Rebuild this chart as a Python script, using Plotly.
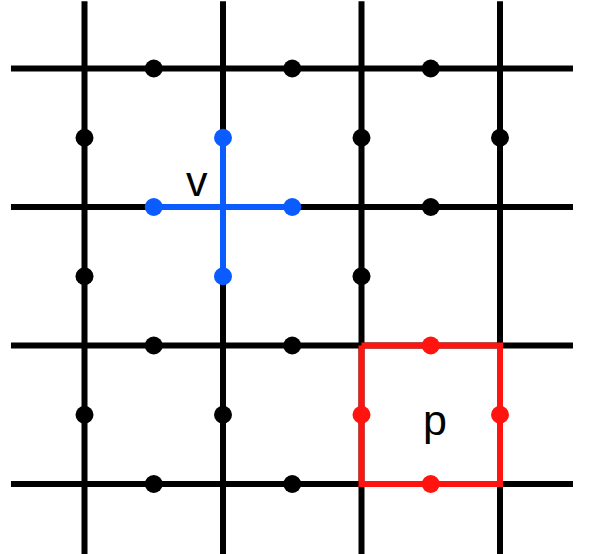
import plotly.graph_objects as go

# Lattice (in lattice units: columns / rows)
cols = [0, 1, 2, 3]
rows = [0, 1, 2, 3]
h_extent = [-0.531, 3.527]
v_extent = [-0.485, 3.60]

# Black qubit dots (edge midpoints)
black_x = [0.5, 1.5, 2.5, 2.5, 0.5, 1.5, 0.5, 1.5, 0, 2, 3, 0, 2, 0, 1]
black_y = [0, 0, 0, 1, 2, 2, 3, 3, 0.5, 0.5, 0.5, 1.5, 1.5, 2.5, 2.5]

# Vertex operator v (blue star)
star_x = [1, 0.5, 1.5, 1]
star_y = [0.5, 1, 1, 1.5]

# Plaquette operator p (red square)
plaq_corners_x = [2, 3, 3, 2, 2]
plaq_corners_y = [2, 2, 3, 3, 2]
plaq_x = [2.5, 2, 3, 2.5]
plaq_y = [2, 2.5, 2.5, 3]

labels = ["v", "p"]
label_x = [0.81, 2.53]
label_y = [0.84, 2.57]

BLACK = "#000000"
BLUE = "#0a5cff"
RED = "#ff1410"
LW = 6
MS = 18

fig = go.Figure()

# grid lines
gx, gy = [], []
for r in rows:
    gx += [h_extent[0], h_extent[1], None]
    gy += [r, r, None]
for c in cols:
    gx += [c, c, None]
    gy += [v_extent[0], v_extent[1], None]
fig.add_trace(go.Scatter(x=gx, y=gy, mode="lines", line=dict(color=BLACK, width=LW),
                         hoverinfo="skip", showlegend=False))

# blue star lines
sx = [star_x[1], star_x[2], None, star_x[0], star_x[3]]
sy = [star_y[1], star_y[2], None, star_y[0], star_y[3]]
fig.add_trace(go.Scatter(x=sx, y=sy, mode="lines", line=dict(color=BLUE, width=LW),
                         hoverinfo="skip", showlegend=False))

# red plaquette
fig.add_trace(go.Scatter(x=plaq_corners_x, y=plaq_corners_y, mode="lines",
                         line=dict(color=RED, width=LW), hoverinfo="skip", showlegend=False))

# dots
fig.add_trace(go.Scatter(x=black_x, y=black_y, mode="markers",
                         marker=dict(color=BLACK, size=MS), showlegend=False))
fig.add_trace(go.Scatter(x=star_x, y=star_y, mode="markers",
                         marker=dict(color=BLUE, size=MS), showlegend=False))
fig.add_trace(go.Scatter(x=plaq_x, y=plaq_y, mode="markers",
                         marker=dict(color=RED, size=MS), showlegend=False))

fig.add_trace(go.Scatter(x=label_x, y=label_y, mode="text", text=labels,
                         textfont=dict(family="Liberation Sans", size=43, color=BLACK),
                         textposition="middle center", showlegend=False, hoverinfo="skip"))

fig.update_layout(
    width=592, height=554,
    margin=dict(l=0, r=0, t=0, b=0),
    paper_bgcolor="white", plot_bgcolor="white",
    hovermode=False,
    xaxis=dict(range=[-0.6101, 3.6643], visible=False, fixedrange=True),
    yaxis=dict(range=[3.5054, -0.4946], visible=False, fixedrange=True),
)

fig.write_html("out.html", config={"displayModeBar": False, "staticPlot": True},
               post_script="document.body.style.margin='0';document.body.style.overflow='hidden';")
